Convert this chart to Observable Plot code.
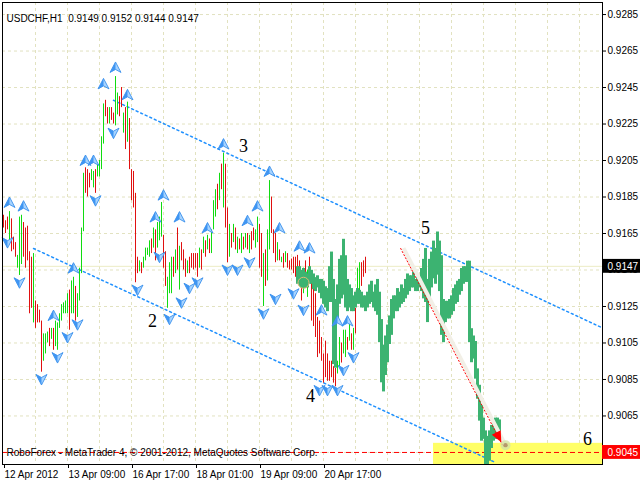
<!DOCTYPE html>
<html><head><meta charset="utf-8">
<script src="https://cdn.jsdelivr.net/npm/d3@7"></script>
<script src="https://cdn.jsdelivr.net/npm/@observablehq/plot@0.6"></script>
<style>
html,body{margin:0;padding:0;background:#fff;}
#chart svg{display:block;}
</style></head><body><div id="chart"></div>
<script>
// ---- texts ----
const title = "USDCHF,H1  0.9149 0.9152 0.9144 0.9147";
const copyright = "RoboForex - MetaTrader 4, \u00a9 2001-2012, MetaQuotes Software Corp.";
// ---- axes ----
const xTickIdx = [0, 32, 64, 96, 128, 160];
const xTickLabels = ["12 Apr 2012", "13 Apr 09:00", "16 Apr 17:00", "18 Apr 01:00", "19 Apr 09:00", "20 Apr 17:00"];
const yTicks = [0.9285, 0.9265, 0.9245, 0.9225, 0.9205, 0.9185, 0.9165, 0.9145, 0.9125, 0.9105, 0.9085, 0.9065, 0.9045];
// ---- H1 bars (high / low / direction g=up r=down) ----
const barHigh = [
0.9175,0.9172,0.9174,0.9177,0.9173,0.9163,0.9160,0.9153,0.9174,0.9175,
0.9171,0.9168,0.9169,0.9155,0.9152,0.9154,0.9128,0.9126,0.9123,0.9117,
0.9110,0.9110,0.9111,0.9113,0.9113,0.9113,0.9117,0.9116,0.9121,0.9126,
0.9127,0.9128,0.9132,0.9134,0.9139,0.9141,0.9136,0.9132,0.9146,0.9168,
0.9198,0.9201,0.9200,0.9198,0.9200,0.9199,0.9200,0.9203,0.9205,0.9218,
0.9236,0.9238,0.9234,0.9234,0.9234,0.9231,0.9251,0.9242,0.9240,0.9245,
0.9231,0.9234,0.9237,0.9228,0.9200,0.9199,0.9187,0.9152,0.9150,0.9149,
0.9152,0.9157,0.9157,0.9161,0.9162,0.9168,0.9167,0.9171,0.9174,0.9182,
0.9164,0.9155,0.9141,0.9149,0.9152,0.9152,0.9156,0.9168,0.9158,0.9160,
0.9156,0.9151,0.9150,0.9152,0.9154,0.9154,0.9154,0.9154,0.9157,0.9156,
0.9163,0.9161,0.9164,0.9162,0.9167,0.9183,0.9189,0.9192,0.9198,0.9203,
0.9209,0.9203,0.9179,0.9170,0.9165,0.9170,0.9168,0.9163,0.9162,0.9165,
0.9163,0.9165,0.9165,0.9164,0.9166,0.9168,0.9167,0.9174,0.9170,0.9165,
0.9154,0.9156,0.9167,0.9194,0.9185,0.9167,0.9165,0.9160,0.9156,0.9152,
0.9154,0.9155,0.9154,0.9150,0.9151,0.9152,0.9152,0.9153,0.9150,0.9143,
0.9146,0.9150,0.9145,0.9152,0.9139,0.9136,0.9132,0.9119,0.9117,0.9108,
0.9099,0.9106,0.9099,0.9095,0.9095,0.9092,0.9091,0.9095,0.9108,0.9105,
0.9112,0.9112,0.9108,0.9117,0.9110,0.9113,0.9124,0.9146,0.9149,0.9149,
0.9150,0.9152];
const barLow = [
0.9168,0.9165,0.9167,0.9161,0.9155,0.9156,0.9152,0.9146,0.9142,0.9148,
0.9152,0.9146,0.9150,0.9121,0.9124,0.9116,0.9113,0.9116,0.9116,0.9089,
0.9095,0.9099,0.9105,0.9103,0.9107,0.9101,0.9103,0.9101,0.9113,0.9117,
0.9121,0.9121,0.9121,0.9112,0.9121,0.9121,0.9117,0.9119,0.9128,0.9143,
0.9166,0.9187,0.9185,0.9190,0.9194,0.9190,0.9187,0.9196,0.9196,0.9200,
0.9214,0.9229,0.9225,0.9225,0.9227,0.9225,0.9224,0.9230,0.9229,0.9234,
0.9220,0.9211,0.9215,0.9200,0.9183,0.9179,0.9138,0.9143,0.9144,0.9143,
0.9146,0.9150,0.9153,0.9152,0.9154,0.9157,0.9150,0.9157,0.9161,0.9163,
0.9146,0.9136,0.9124,0.9132,0.9132,0.9141,0.9143,0.9145,0.9134,0.9150,
0.9145,0.9141,0.9143,0.9143,0.9146,0.9145,0.9146,0.9141,0.9146,0.9145,
0.9154,0.9152,0.9156,0.9154,0.9154,0.9167,0.9174,0.9178,0.9183,0.9189,
0.9179,0.9168,0.9149,0.9152,0.9157,0.9160,0.9156,0.9154,0.9156,0.9154,
0.9156,0.9157,0.9156,0.9154,0.9156,0.9161,0.9157,0.9160,0.9146,0.9141,
0.9125,0.9136,0.9139,0.9156,0.9165,0.9154,0.9149,0.9150,0.9150,0.9149,
0.9146,0.9149,0.9146,0.9145,0.9145,0.9143,0.9141,0.9141,0.9138,0.9128,
0.9132,0.9136,0.9130,0.9141,0.9117,0.9114,0.9108,0.9097,0.9099,0.9095,
0.9083,0.9086,0.9084,0.9084,0.9086,0.9083,0.9081,0.9088,0.9092,0.9094,
0.9099,0.9097,0.9101,0.9106,0.9101,0.9101,0.9110,0.9128,0.9132,0.9136,
0.9141,0.9143];
const barDir =
"rrrgrrrggg" + "rrrrrgrrrr" + "gggrgrgggg" + "gggrggrggg" + "grrrggrggg" +
"grrgrrggrr" + "grgrrrrrgr" + "ggggrgrggg" + "rrgggrgrgr" + "rrgrrrrrgr" +
"grgrgggrgr" + "grrgrgrgrg" + "rgrgrrggrr" + "grggrrrgrg" + "rgrrrrrrrr" +
"grgrrrrrrr" + "rrrrrrrggr" + "ggrgrgrggr" + "rr";
// ---- overlay series (thick green) ----
const greenStart = 147;
const greenHigh = [
0.9146,0.9146,0.9144,0.9145,0.9143,0.9142,0.9146,0.9144,0.9142,0.9140,
0.9141,0.9139,0.9139,0.9138,0.9135,0.9134,0.9146,0.9154,0.9139,0.9128,
0.9136,0.9150,0.9152,0.9161,0.9152,0.9139,0.9136,0.9134,0.9130,0.9132,
0.9134,0.9133,0.9132,0.9130,0.9130,0.9132,0.9136,0.9138,0.9132,0.9136,
0.9139,0.9132,0.9117,0.9103,0.9108,0.9114,0.9119,0.9128,0.9130,0.9130,
0.9134,0.9132,0.9136,0.9134,0.9139,0.9142,0.9141,0.9141,0.9143,0.9139,
0.9141,0.9139,0.9145,0.9150,0.9156,0.9139,0.9150,0.9154,0.9160,0.9156,
0.9165,0.9160,0.9152,0.9128,0.9127,0.9127,0.9128,0.9130,0.9134,0.9136,
0.9138,0.9139,0.9145,0.9146,0.9146,0.9149,0.9149,0.9112,0.9108,0.9105,
0.9090,0.9081,0.9070,0.9063,0.9056,0.9053,0.9056,0.9059,0.9061,0.9063,
0.9063,0.9062];
const greenLow = [
0.9138,0.9138,0.9139,0.9136,0.9137,0.9136,0.9138,0.9138,0.9135,0.9134,
0.9136,0.9133,0.9130,0.9127,0.9125,0.9123,0.9128,0.9128,0.9094,0.9092,
0.9117,0.9127,0.9130,0.9132,0.9125,0.9123,0.9125,0.9123,0.9123,0.9125,
0.9127,0.9127,0.9125,0.9125,0.9123,0.9125,0.9127,0.9128,0.9125,0.9123,
0.9121,0.9106,0.9084,0.9079,0.9088,0.9095,0.9105,0.9110,0.9119,0.9123,
0.9123,0.9125,0.9127,0.9128,0.9130,0.9132,0.9134,0.9136,0.9136,0.9134,
0.9134,0.9136,0.9134,0.9130,0.9128,0.9117,0.9128,0.9136,0.9141,0.9138,
0.9143,0.9134,0.9110,0.9106,0.9117,0.9119,0.9119,0.9121,0.9123,0.9127,
0.9128,0.9132,0.9134,0.9138,0.9139,0.9139,0.9106,0.9095,0.9097,0.9086,
0.9075,0.9063,0.9052,0.9053,0.9039,0.9039,0.9041,0.9048,0.9052,0.9053,
0.9053,0.9055];
// ---- fractals ----
const upIdx   = [3, 10, 25, 35, 41, 45, 50, 56, 62, 76, 80, 88, 102, 110, 122, 127, 133, 138, 148, 153, 159, 167, 172];
const upPrice = [0.9182,0.9180,0.9120,0.9146,0.9205,0.9205,0.9247,0.9256,0.9241,0.9174,0.9186,0.9174,0.9168,0.9214,0.9172,0.9180,0.9199,0.9168,0.9158,0.9157,0.9123,0.9117,0.9117];
const downIdx   = [2, 8, 19, 27, 32, 37, 46, 55, 67, 78, 83, 89, 93, 97, 112, 117, 123, 130, 136, 145, 150, 158, 162, 167, 170, 175];
const downPrice = [0.9160,0.9138,0.9085,0.9097,0.9108,0.9115,0.9183,0.9220,0.9134,0.9152,0.9118,0.9127,0.9135,0.9138,0.9145,0.9145,0.9149,0.9121,0.9129,0.9132,0.9123,0.9079,0.9079,0.9079,0.9090,0.9097];
// ---- drawn objects ----
const upperChannelIdx = [55, 299];
const upperChannelPrice = [0.9238, 0.91135];
const lowerChannelIdx = [15, 246];
const lowerChannelPrice = [0.91568, 0.90395];
const forecastIdx = [198.5, 249.5];
const forecastPrice = [0.9157, 0.9049];
const arrowHeadIdx = 247.3;
const arrowHeadPrice = 0.9054;
const zoneIdx = [215, 299.5];
const zonePrice = [0.90384, 0.9050];
const targetPrice = 0.9045;
const bidPrice = 0.9147;
const markerIdx = 150, markerPrice = 0.9138;
const haloIdx = 251, haloPrice = 0.9049;
const waveText  = ["2", "3", "4", "5", "6"];
const waveIdx   = [74.5, 120, 153.5, 211, 292];
const wavePrice = [0.9117, 0.9213, 0.9076, 0.9168, 0.9052];

// ---- build ----
const bars = barHigh.map((h, i) => ({i, h, l: barLow[i], c: barDir[i] === "g" ? "#10dc10" : "#e01010"}));
const green = greenHigh.map((h, k) => ({i: greenStart + k, h, l: greenLow[k]}));
const ups = upIdx.map((i, k) => ({i, p: upPrice[k]}));
const downs = downIdx.map((i, k) => ({i, p: downPrice[k]}));
const gridX = d3.range(16, 300, 16);
const line2 = (xs, ys) => xs.map((x, k) => ({i: x, p: ys[k]}));
const waves = waveText.map((t, k) => ({t, i: waveIdx[k], p: wavePrice[k]}));
const boxes = [{p: bidPrice, fill: "#000000"}, {p: targetPrice, fill: "#ff0000"}];
const halfBox = 0.00038;

const upLeft = {draw(ctx){ctx.moveTo(0,-5.5);ctx.lineTo(-5.5,5);ctx.lineTo(0,2);ctx.closePath();}};
const upFull = {draw(ctx){ctx.moveTo(0,-5.5);ctx.lineTo(5.5,5);ctx.lineTo(0,2);ctx.lineTo(-5.5,5);ctx.closePath();}};
const dnLeft = {draw(ctx){ctx.moveTo(0,5.5);ctx.lineTo(-5.5,-5);ctx.lineTo(0,-2);ctx.closePath();}};
const dnFull = {draw(ctx){ctx.moveTo(0,5.5);ctx.lineTo(5.5,-5);ctx.lineTo(0,-2);ctx.lineTo(-5.5,-5);ctx.closePath();}};
// arrowhead pointing along the forecast line (down-right)
const headSym = {draw(ctx){
  const ux = 0.46, uy = 0.89, vx = -0.89, vy = 0.46;
  ctx.moveTo(7*ux, 7*uy);
  ctx.lineTo(-4*ux + 5*vx, -4*uy + 5*vy);
  ctx.lineTo(-4*ux - 5*vx, -4*uy - 5*vy);
  ctx.closePath();
}};

const chart = Plot.plot({
  width: 640, height: 480,
  marginLeft: 2, marginRight: 38, marginTop: 2, marginBottom: 16,
  x: {domain: [-0.5, 299.5], axis: null},
  y: {domain: [0.90384, 0.92916], axis: null},
  color: {type: "identity"},
  style: {fontFamily: "'Liberation Sans', Arial, sans-serif", fontSize: "10px", background: "#ffffff", color: "#000"},
  marks: [
    Plot.ruleY(yTicks, {stroke: "#e2e2c0", strokeDasharray: "3,3"}),
    Plot.ruleX(gridX, {stroke: "#e2e2c0", strokeDasharray: "3,3"}),
    Plot.rect([{x1: zoneIdx[0], x2: zoneIdx[1], y1: zonePrice[0], y2: zonePrice[1]}], {x1: "x1", x2: "x2", y1: "y1", y2: "y2", fill: "#ffff66"}),
    Plot.ruleY([bidPrice], {stroke: "#ececc4"}),
    Plot.ruleY([targetPrice], {stroke: "#ff0000", strokeDasharray: "5,3"}),
    Plot.line(line2(upperChannelIdx, upperChannelPrice), {x: "i", y: "p", stroke: "#1e90ff", strokeDasharray: "2,3"}),
    Plot.line(line2(lowerChannelIdx, lowerChannelPrice), {x: "i", y: "p", stroke: "#1e90ff", strokeDasharray: "2,3"}),
    Plot.ruleX(bars, {x: "i", y1: "l", y2: "h", stroke: "c", strokeWidth: 1}),
    Plot.ruleX(green, {x: "i", y1: "l", y2: "h", stroke: "#3cb371", strokeWidth: 3, strokeLinecap: "square"}),
    Plot.dot([{i: markerIdx, p: markerPrice}], {x: "i", y: "p", r: 5.5, fill: "#3cb371", stroke: "#e2b874", strokeWidth: 1}),
    Plot.dot(ups, {x: "i", y: "p", symbol: upFull, r: 5, fill: "#a6d3ff", stroke: "#2a86ea", strokeWidth: 0.8}),
    Plot.dot(ups, {x: "i", y: "p", symbol: upLeft, r: 5, fill: "#3f95f2"}),
    Plot.dot(downs, {x: "i", y: "p", symbol: dnFull, r: 5, fill: "#a6d3ff", stroke: "#2a86ea", strokeWidth: 0.8}),
    Plot.dot(downs, {x: "i", y: "p", symbol: dnLeft, r: 5, fill: "#3f95f2"}),
    Plot.link([{x1: forecastIdx[0], y1: forecastPrice[0], x2: forecastIdx[1], y2: forecastPrice[1]}], {x1: "x1", y1: "y1", x2: "x2", y2: "y2", stroke: "#f2efe6", strokeWidth: 4, dx: 3}),
    Plot.link([{x1: forecastIdx[0], y1: forecastPrice[0], x2: forecastIdx[1], y2: forecastPrice[1]}], {x1: "x1", y1: "y1", x2: "x2", y2: "y2", stroke: "#ff0000", strokeDasharray: "2,1.5"}),
    Plot.dot([{i: haloIdx, p: haloPrice}], {x: "i", y: "p", r: 5, fill: "#d3e4a4", fillOpacity: 0.8}),
    Plot.dot([{i: haloIdx, p: haloPrice}], {x: "i", y: "p", r: 2.2, fill: "#b49a6c"}),
    Plot.dot([{i: arrowHeadIdx, p: arrowHeadPrice}], {x: "i", y: "p", symbol: headSym, r: 6, fill: "#ff0000"}),
    Plot.text(waves, {x: "i", y: "p", text: "t", fontFamily: "'Liberation Serif', 'Times New Roman', serif", fontSize: 18, fill: "#000"}),
    Plot.frame({stroke: "#000"}),
    Plot.axisY(yTicks, {anchor: "right", tickSize: 3, tickPadding: 2, tickFormat: d3.format(".4f"), label: null, fontSize: 10}),
    Plot.axisX(xTickIdx, {anchor: "bottom", tickSize: 4, tickPadding: 2, tickFormat: d => xTickLabels[xTickIdx.indexOf(d)], textAnchor: "start", dx: 1, label: null, fontSize: 10}),
    Plot.rect(boxes, {x1: () => 299.5, x2: () => 320, y1: d => d.p - halfBox, y2: d => d.p + halfBox, fill: "fill"}),
    Plot.text(boxes, {x: () => 299.5, y: "p", text: d => d.p.toFixed(4), dx: 5, textAnchor: "start", fill: "#ffffff", fontSize: 10}),
    Plot.text([title], {frameAnchor: "top-left", dx: 4, dy: 12, textAnchor: "start", fill: "#000", fontSize: 10}),
    Plot.text([copyright], {frameAnchor: "bottom-left", dx: 4, dy: -9, textAnchor: "start", fill: "#000", fontSize: 10})
  ]
});
document.getElementById("chart").appendChild(chart);
</script>
</body></html>
